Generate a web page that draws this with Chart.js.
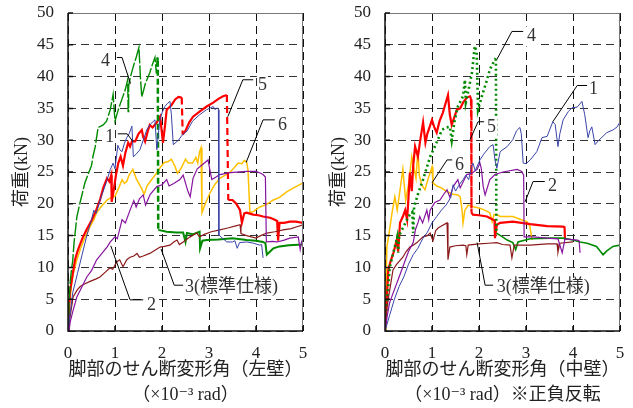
<!DOCTYPE html>
<html>
<head>
<meta charset="utf-8">
<script src="https://cdn.jsdelivr.net/npm/chart.js@4/dist/chart.umd.min.js"></script>
<style>
body { margin: 0; background: #fff; width: 633px; height: 408px; overflow: hidden; position: relative; }
canvas { position: absolute; top: 0; }
#leftChart { left: 0; }
#rightChart { left: 317px; }
</style>
</head>
<body>
<canvas id="leftChart" width="316" height="408"></canvas>
<canvas id="rightChart" width="316" height="408"></canvas>
<script>
// Axes
const xMin = 0, xMax = 5, xStep = 1;
const yMin = 0, yMax = 50, yStep = 5;

// Left wall (x = shear angle 1e-3 rad, y = load kN)
const left1 = [[0,0],[0.05,3],[0.1,6],[0.2,9],[0.3,12],[0.4,15],[0.5,17.5],[0.55,19],[0.6,18.5],[0.7,21],[0.75,22],[0.82,23.5],[0.9,25.4],[0.96,26.4],[1.0,25.5],[1.06,29.2],[1.1,28.5],[1.15,28.2],[1.2,29.5],[1.25,30.4],[1.3,31],[1.36,32.2],[1.39,27.4],[1.45,27.8],[1.53,28.5],[1.6,30],[1.68,31.7],[1.75,32.5],[1.85,33.2],[1.89,28.5],[1.95,33],[2.0,34.3],[2.06,35.3],[2.12,35.8],[2.17,36.1],[2.2,34],[2.24,29.3],[2.35,30],[2.45,31],[2.53,31.4],[2.65,33],[2.8,34],[2.95,34.8],[3.09,35.3],[3.13,34.8],[3.17,35.1],[3.2,34.8],[3.21,15.1],[3.3,14.5],[3.38,14],[3.5,14],[3.55,14.2],[3.6,13],[3.65,13.9],[3.8,14],[3.95,13.8],[4.08,13.5],[4.12,13.6],[4.15,11.5]];
const left2 = [[0.02,0],[0.05,1.5],[0.1,3],[0.19,5.4],[0.3,7],[0.4,8.5],[0.5,9.5],[0.61,11.2],[0.7,12],[0.83,13.2],[0.9,14],[1.0,14.8],[1.05,14.5],[1.15,17.5],[1.22,17],[1.32,19],[1.4,20.5],[1.45,19.5],[1.52,20.8],[1.6,21.4],[1.65,19.8],[1.75,21.5],[1.89,22.7],[2.0,23],[2.1,23.8],[2.15,22.8],[2.25,23.2],[2.38,23.8],[2.45,24.5],[2.55,22],[2.6,21.1],[2.66,24],[2.75,25.5],[2.85,26.1],[2.98,26.9],[3.02,25.3],[3.06,23.8],[3.15,24.2],[3.23,24.6],[3.45,24.9],[3.8,25.1],[4.0,25.1],[4.1,24.8],[4.15,24.6],[4.2,24.2],[4.22,14],[4.35,14.1],[4.45,14],[4.6,14.3],[4.72,14.6],[4.9,14.8],[4.94,12.8],[4.97,14],[5.0,14.6]];
const left3 = [[0,0],[0.05,2.5],[0.11,5.4],[0.2,6.5],[0.26,7],[0.35,7.4],[0.47,7.8],[0.6,8.2],[0.68,8.5],[0.8,9.3],[0.89,9.9],[0.95,9.7],[1.04,10.9],[1.1,11.2],[1.17,10.1],[1.25,11.2],[1.32,11.6],[1.4,11.8],[1.47,12.2],[1.52,11.6],[1.6,11.8],[1.74,12.2],[1.85,12.7],[1.96,13.2],[2.05,13.3],[2.17,13.5],[2.25,14],[2.32,14.3],[2.37,13.6],[2.45,14],[2.6,14.8],[2.74,15.4],[2.8,14.8],[2.9,15.2],[3.05,15.6],[3.23,15.9],[3.4,16.2],[3.55,16.5],[3.66,16.7],[3.68,15.3],[3.8,15],[4.0,14.6],[4.1,15],[4.23,15.4],[4.4,15.6],[4.58,15.9],[4.75,16.1],[4.87,16.4],[5.0,16.7]];
const left4 = [[0,0],[0.02,4],[0.05,8],[0.08,10],[0.1,11],[0.13,14],[0.16,16],[0.19,18],[0.25,20],[0.3,21.5],[0.36,23.3],[0.42,24.5],[0.5,26],[0.53,27.4],[0.58,29],[0.64,32],[0.7,32.2],[0.75,32.4],[0.82,33],[0.9,34.8],[0.96,37.2],[1.0,33],[1.07,34.8],[1.15,36.5],[1.22,38],[1.27,39.5],[1.28,34.5],[1.29,38.5],[1.33,40],[1.39,41.6],[1.45,43],[1.51,44.6],[1.54,40],[1.57,36.8],[1.65,39],[1.74,40.6],[1.8,42],[1.85,43],[1.88,40.5],[1.9,43],[1.91,42.5],[1.92,15.9],[2.1,15.6],[2.3,15.5],[2.45,15.5],[2.5,14],[2.53,15.4],[2.65,15.2],[2.8,15.6],[2.81,13],[2.86,14.2],[2.95,14.3],[3.2,14.4],[3.5,14.6],[3.8,14.3],[4.0,14.2],[4.15,14],[4.2,13.8],[4.23,12],[4.3,12.5],[4.37,13],[4.5,13.3],[4.7,13.5],[5.0,13.6]];
const left5 = [[0,0],[0.02,3],[0.04,6],[0.08,8],[0.15,11.2],[0.2,12.5],[0.25,13.5],[0.32,14.8],[0.4,16],[0.51,17.5],[0.6,19],[0.68,20.6],[0.75,22.5],[0.83,24],[0.88,23.5],[0.92,24.5],[0.93,20.3],[0.97,22],[1.02,24.5],[1.07,26.4],[1.12,27.4],[1.17,26],[1.22,28],[1.28,29.6],[1.32,29],[1.36,29.8],[1.43,29.8],[1.5,31],[1.57,31.6],[1.6,30.5],[1.64,29.8],[1.7,31.5],[1.74,32.4],[1.8,32],[1.88,32.7],[1.96,33.7],[2.0,31],[2.02,29.6],[2.06,32],[2.1,34.8],[2.2,35.5],[2.28,36.4],[2.35,36.8],[2.42,36.7],[2.44,30.9],[2.5,31.5],[2.58,32.8],[2.66,33.7],[2.8,34.5],[2.95,35.3],[3.09,35.9],[3.2,36.5],[3.3,36.9],[3.38,37.1],[3.41,20.6],[3.5,20.6],[3.58,20],[3.66,19],[3.7,17],[3.75,18.5],[3.8,18.6],[3.94,18.3],[4.05,18.2],[4.15,18],[4.3,17.8],[4.4,17.5],[4.45,17.3],[4.47,14.2],[4.5,17],[4.6,17],[4.72,17.2],[4.85,17.2],[5.0,17]];
const left6 = [[0,0],[0.03,4],[0.07,7],[0.11,9],[0.18,11],[0.26,12.8],[0.35,14.5],[0.47,16.4],[0.55,17.5],[0.61,18.6],[0.7,19.5],[0.83,20.6],[0.92,21],[1.0,21.2],[1.08,22.5],[1.15,23.8],[1.2,23.2],[1.25,23.5],[1.3,24.5],[1.38,25.4],[1.45,24],[1.5,23.3],[1.56,22.5],[1.62,21.5],[1.68,22.8],[1.75,23.5],[1.82,24.2],[1.9,25],[1.97,25.8],[2.05,26.5],[2.12,26.6],[2.2,27],[2.27,26],[2.33,24.8],[2.4,25.5],[2.5,27],[2.56,26.4],[2.65,26.4],[2.72,27.3],[2.76,26.4],[2.8,28.2],[2.83,28.8],[2.85,18.6],[2.92,20],[3.02,21.7],[3.12,23],[3.23,24],[3.35,24.5],[3.45,25],[3.55,25.8],[3.62,26.4],[3.7,26.3],[3.75,26.8],[3.8,26.6],[3.83,25.3],[3.87,18.6],[3.95,18.8],[4.08,19.5],[4.2,19.8],[4.37,20.6],[4.5,21],[4.66,21.9],[4.8,22.5],[5.0,23.3]];

// Middle wall (sign reversed)
const right1 = [[0,0],[0.1,2.5],[0.2,5],[0.3,7],[0.4,8.5],[0.5,10.5],[0.6,12],[0.7,13],[0.8,14.5],[0.9,15.5],[1.0,17],[1.1,18],[1.2,19],[1.3,19.8],[1.4,21],[1.45,23],[1.5,22],[1.58,23],[1.66,23.8],[1.72,24.5],[1.78,23.8],[1.84,25.8],[1.87,26.4],[1.92,25.2],[2.02,26.9],[2.1,27.8],[2.23,29],[2.3,29.3],[2.34,26.9],[2.38,25.6],[2.45,28.2],[2.6,29],[2.72,30.1],[2.8,31.5],[2.87,32],[2.9,31],[2.94,26.4],[3.0,26.3],[3.09,26.9],[3.23,28.2],[3.34,30.4],[3.45,30.6],[3.57,32.9],[3.62,32.5],[3.68,29],[3.72,31],[3.79,33.2],[3.9,34.5],[3.98,35.1],[4.09,35.2],[4.19,36.1],[4.25,34],[4.32,30.4],[4.36,31.5],[4.4,32.1],[4.47,29.3],[4.55,30],[4.72,31.2],[4.85,31.6],[4.94,32.1],[5.0,32.9]];
const right2 = [[0,0],[0.05,2.5],[0.1,4.5],[0.2,6.5],[0.3,8.5],[0.4,10.5],[0.5,12.5],[0.6,13.9],[0.65,16],[0.7,17],[0.74,18],[0.8,17],[0.89,19],[0.93,17.5],[0.96,19],[1.06,20.2],[1.17,20.6],[1.25,21.5],[1.32,22.2],[1.38,21],[1.45,22.7],[1.55,23.8],[1.6,22.5],[1.74,24.6],[1.85,24.8],[1.96,25.4],[2.02,26.4],[2.05,25.5],[2.09,22.7],[2.13,21.4],[2.23,23.8],[2.34,24.6],[2.51,25],[2.81,25.4],[2.91,25.1],[2.95,24.5],[2.96,14.8],[3.15,14.8],[3.45,14.6],[3.68,14.5],[3.77,12.3],[3.83,14.5],[4.09,14.3],[4.13,14.2],[4.15,12.3]];
const right3 = [[0,0],[0.03,3],[0.08,5.5],[0.17,9.6],[0.25,10.5],[0.38,11.6],[0.45,12.5],[0.53,13.2],[0.6,13.5],[0.68,13.9],[0.75,14.4],[0.81,14.8],[0.9,15],[0.96,15.4],[1.02,14.2],[1.08,15.8],[1.13,16.2],[1.2,16.5],[1.32,17],[1.34,11.2],[1.38,13.2],[1.5,13.4],[1.66,13.5],[1.72,13.4],[1.74,12],[1.77,13.5],[2.0,13.7],[2.2,13.8],[2.38,13.9],[2.5,13.6],[2.66,13.5],[2.7,11.5],[2.75,13.5],[3.09,13.5],[3.45,13.7],[3.66,13.7],[3.68,12.4],[3.72,13.8],[4.0,14]];
const right4 = [[0,0],[0.03,3],[0.05,5],[0.1,10],[0.2,13],[0.26,14.8],[0.28,12.3],[0.3,15],[0.4,16.5],[0.5,18],[0.58,18.7],[0.6,15.4],[0.62,19.5],[0.7,21.5],[0.81,23.8],[0.96,27.4],[1.06,29],[1.12,30],[1.21,31.6],[1.3,32],[1.38,32.1],[1.42,30],[1.48,33],[1.55,35.3],[1.66,36.9],[1.7,39.5],[1.72,36],[1.78,38],[1.85,40.6],[1.91,44.8],[1.95,43.8],[1.98,34.8],[2.06,36.9],[2.15,39],[2.23,41.1],[2.34,42.7],[2.36,42.6],[2.37,15.4],[2.5,14.8],[2.6,14.3],[2.72,13.9],[2.78,12.8],[2.83,14],[3.09,14.5],[3.5,14.6],[3.79,14.6],[4.0,14.3],[4.15,14],[4.3,13.8],[4.5,13.3],[4.64,12],[4.72,12.6],[4.85,13.3],[5.0,13.5]];
const right5 = [[0,0],[0.03,4],[0.07,9.6],[0.12,11],[0.18,12.3],[0.25,14.3],[0.28,12.5],[0.32,17],[0.38,18],[0.43,19],[0.47,17.5],[0.5,21],[0.53,24.9],[0.57,22],[0.6,26],[0.64,29],[0.7,27.4],[0.75,30],[0.81,32.8],[0.86,29.6],[0.9,31],[1.0,33.2],[1.05,32],[1.1,31.2],[1.16,33],[1.23,34.3],[1.34,37.1],[1.38,34],[1.42,32.4],[1.53,34.8],[1.6,35],[1.66,35.9],[1.74,36.7],[1.81,36.9],[1.83,36.5],[1.84,18.6],[1.87,18.3],[2.0,18.2],[2.17,18],[2.3,17.5],[2.33,17.4],[2.34,14.6],[2.38,16.7],[2.45,17],[2.72,17.2],[3.09,16.8],[3.45,16.5],[3.79,16.4],[3.82,16.3],[3.83,14.3]];
const right6 = [[0,0],[0.02,6],[0.04,13.2],[0.1,16],[0.15,18.6],[0.21,21.1],[0.26,19],[0.32,22.2],[0.38,25.4],[0.44,20.5],[0.5,23],[0.57,27.4],[0.62,25.5],[0.66,24],[0.7,28.5],[0.73,24.5],[0.78,23],[0.85,22.2],[0.92,24],[1.0,25.8],[1.02,23.3],[1.1,22.8],[1.2,22.5],[1.32,21.9],[1.45,21.5],[1.55,21.4],[1.6,21.1],[1.64,19],[1.66,17],[1.7,19],[1.77,19.8],[1.9,19.5],[2.02,19.3],[2.12,19],[2.23,18.6],[2.28,17.2],[2.32,18.3],[2.38,18.3],[2.45,18],[2.72,18],[2.9,17.5],[3.02,17.2],[3.08,16.5],[3.13,14.3]];

// Leader labels: text, label position and leader polyline, in data units
const leftNotes = [
    { text: '4', at: [0.70, 42.4], line: [[1.04, 43.0], [1.15, 43.0], [1.33, 38.9]] },
    { text: '1', at: [0.79, 30.4], line: [[1.06, 31.0], [1.26, 31.0], [1.38, 29.8]] },
    { text: '5', at: [4.04, 38.7], line: [[3.94, 39.5], [3.72, 39.5], [3.40, 33.7]] },
    { text: '6', at: [4.47, 32.4], line: [[4.40, 33.2], [4.15, 33.2], [3.79, 26.5]] },
    { text: '2', at: [1.68, 4.1], line: [[1.60, 4.9], [1.32, 4.9], [0.91, 13.4]] },
    { text: '3(標準仕様)', at: [2.49, 6.8], line: [[2.45, 7.2], [2.26, 7.2], [1.98, 12.9]] }
];
const rightNotes = [
    { text: '4', at: [3.02, 46.3], line: [[2.94, 47.1], [2.70, 47.1], [2.38, 42.7]] },
    { text: '1', at: [4.34, 38.0], line: [[4.30, 38.6], [4.09, 38.6], [3.57, 32.9]] },
    { text: '5', at: [2.17, 32.1], line: [[2.11, 32.9], [1.98, 32.9], [1.81, 30.1]] },
    { text: '6', at: [1.49, 26.1], line: [[1.43, 26.9], [1.32, 26.9], [1.00, 23.3]] },
    { text: '2', at: [3.47, 22.7], line: [[3.40, 23.5], [3.15, 23.5], [2.98, 20.3]] },
    { text: '3(標準仕様)', at: [2.38, 6.8], line: [[2.30, 7.2], [2.13, 7.2], [1.96, 13.9]] }
];

const serif = "'Liberation Serif', 'DejaVu Serif', 'Noto Sans CJK JP', serif";
const isDrop = c => c.p0.parsed.y - c.p1.parsed.y > 5;

// le premier de la liste est dessiné au-dessus
const seriesStyle = {
    '5': { color: '#ff0000', width: 2.2 },
    '4': { color: '#008a00', width: 2 },
    '1': { color: '#3a43a8', width: 1 },
    '6': { color: '#ffc000', width: 1.5 },
    '2': { color: '#86149e', width: 1.2 },
    '3': { color: '#8b1a1a', width: 1.2 }
};

function buildDatasets(data, segments) {
    return Object.keys(seriesStyle).map(name => ({
        label: name,
        data: data[name].map(p => ({ x: p[0], y: p[1] })),
        borderColor: seriesStyle[name].color,
        borderWidth: seriesStyle[name].width,
        pointRadius: 0,
        tension: 0,
        fill: false,
        segment: segments[name] || {}
    }));
}

const notesPlugin = {
    id: 'notes',
    afterDatasetsDraw(chart, args, opts) {
        const { ctx, scales: { x, y } } = chart;
        ctx.save();
        ctx.font = '18px ' + serif;
        ctx.textBaseline = 'middle';
        opts.items.forEach(n => {
            const tx = x.getPixelForValue(n.at[0]);
            const ty = y.getPixelForValue(n.at[1]);
            const w = ctx.measureText(n.text).width;
            ctx.fillStyle = '#fff';
            ctx.fillRect(tx - 1, ty - 10, w + 2, 20);
            ctx.strokeStyle = '#000';
            ctx.lineWidth = 1;
            ctx.beginPath();
            n.line.forEach(([vx, vy], i) => {
                const px = x.getPixelForValue(vx), py = y.getPixelForValue(vy);
                if (i === 0) ctx.moveTo(px, py); else ctx.lineTo(px, py);
            });
            ctx.stroke();
            ctx.fillStyle = '#333';
            ctx.fillText(n.text, tx, ty);
        });
        ctx.restore();
    }
};

// Cadre + petites graduations intérieures
const framePlugin = {
    id: 'frame',
    afterDraw(chart) {
        const { ctx, chartArea: a, scales: { x, y } } = chart;
        ctx.save();
        ctx.lineWidth = 1;
        ctx.strokeStyle = '#777';
        ctx.beginPath();
        ctx.moveTo(a.left, a.top + 0.5); ctx.lineTo(a.right, a.top + 0.5);
        ctx.moveTo(a.right - 0.5, a.top); ctx.lineTo(a.right - 0.5, a.bottom);
        ctx.stroke();
        ctx.strokeStyle = '#111';
        ctx.lineWidth = 1.5;
        ctx.beginPath();
        ctx.moveTo(a.left, a.top); ctx.lineTo(a.left, a.bottom); ctx.lineTo(a.right, a.bottom);
        x.ticks.forEach(t => { const px = x.getPixelForValue(t.value); ctx.moveTo(px, a.bottom); ctx.lineTo(px, a.bottom - 5); });
        y.ticks.forEach(t => { const py = y.getPixelForValue(t.value); ctx.moveTo(a.left, py); ctx.lineTo(a.left + 5, py); });
        ctx.stroke();
        ctx.restore();
    }
};

function makeChart(canvasId, data, segments, xTitle, notes) {
    const tickFont = { family: serif, size: 17 };
    return new Chart(document.getElementById(canvasId), {
        type: 'line',
        data: { datasets: buildDatasets(data, segments) },
        options: {
            responsive: false,
            animation: false,
            layout: { padding: { top: 13, right: 13, left: 0, bottom: 0 } },
            plugins: { legend: { display: false }, tooltip: { enabled: false }, notes: { items: notes } },
            scales: {
                // l'écart étiquette/axe passe par tickLength (invisible) : ticks.padding gonflerait la zone
                x: {
                    type: 'linear', min: xMin, max: xMax,
                    ticks: { stepSize: xStep, padding: 0, color: '#222', font: tickFont, maxRotation: 0 },
                    grid: { color: '#111', lineWidth: 1, drawTicks: true, tickLength: 12, tickColor: 'rgba(0,0,0,0)' },
                    border: { display: false, dash: [8, 5] },
                    title: { display: true, text: xTitle, color: '#222', font: { family: serif, size: 18, lineHeight: 1.4 }, padding: 0 },
                    afterFit: s => { s.height = 77; }
                },
                y: {
                    min: yMin, max: yMax,
                    ticks: { stepSize: yStep, padding: 0, color: '#222', font: tickFont },
                    grid: { color: '#333', lineWidth: 1, drawTicks: true, tickLength: 14, tickColor: 'rgba(0,0,0,0)' },
                    border: { display: false, dash: [8, 5] },
                    title: { display: true, text: '荷重(kN)', color: '#222', font: { family: serif, size: 18 }, padding: { top: 11, bottom: 0 } },
                    afterFit: s => { s.width = 68; }
                }
            }
        },
        plugins: [notesPlugin, framePlugin]
    });
}

makeChart('leftChart',
    { '1': left1, '2': left2, '3': left3, '4': left4, '5': left5, '6': left6 },
    {
        '5': { borderDash: c => isDrop(c) ? [7, 4] : [] },
        '4': {
            borderDash: c => isDrop(c) ? [6, 3] : (c.p0.parsed.x < 1.9 ? [14, 2] : []),
            borderWidth: c => isDrop(c) ? 2.5 : (c.p0.parsed.x < 1.9 ? 1.4 : 2)
        }
    },
    ['脚部のせん断変形角（左壁）', '（×10⁻³ rad）'],
    leftNotes);

makeChart('rightChart',
    { '1': right1, '2': right2, '3': right3, '4': right4, '5': right5, '6': right6 },
    {
        '5': { borderDash: c => isDrop(c) ? [7, 4] : [] },
        '4': {
            borderDash: c => c.p0.parsed.x < 2.37 ? [2, 3] : [],
            borderWidth: c => c.p0.parsed.x < 2.37 ? 2.6 : 1.6
        }
    },
    ['脚部のせん断変形角（中壁）', '（×10⁻³ rad）※正負反転'],
    rightNotes);
</script>
</body>
</html>
